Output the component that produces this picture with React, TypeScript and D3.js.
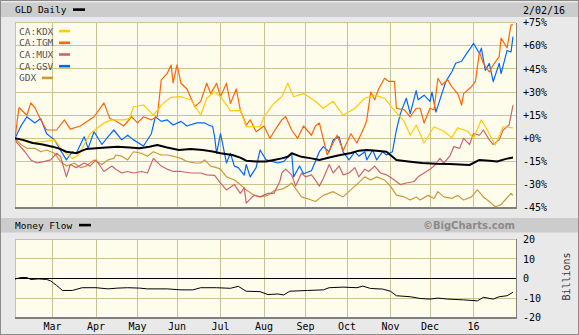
import React from 'react';
import * as d3 from 'd3';

type P = [number, number];

// trading-day index (0 = 2/02/15 ... 252 = 2/02/16), % change
const kdx: P[] = [[0,0],[8,-3],[15,-2],[20,-1],[23,-6],[26,-10],[29,-13],[32,-11],[35,-4],[38,3],[41,6],[45,10],[49,12],[55,12],[58,13],[60,20.5],[65,21.6],[70,15],[75,22.7],[79,26.6],[84,27],[89,25],[94,15],[97,26],[101,30],[104,27],[109,18],[114,18],[117,7.5],[124,7.5],[126,14],[131,22.6],[135,27],[138,35.7],[141,27],[146,29],[152,24],[156,19.5],[161,24],[166,15],[172,19.5],[177,26],[182,28],[187,26],[192,18],[197,10.8],[200,2],[203,8.6],[207,-3],[212,7.5],[217,4.6],[221,0.3],[224,6.8],[229,4.6],[232,0],[236,12],[239,5.4],[243,-4.3],[247,7.5],[252,6.8]];
const tgm: P[] = [[0,0],[2,20],[6,15],[8,23],[10,20],[13,12],[16,5.4],[21,5.4],[25,12],[28,6],[33,8],[40,14],[45,23],[48,12.8],[50,12],[55,8],[59,14],[62,10],[65,14],[69,12],[72,14],[74,37.9],[77,42],[79,47.6],[80,36],[82,47.6],[84,35.7],[87,32],[91,20.5],[94,24],[97,35.7],[99,29],[102,35.7],[104,27],[107,35.7],[109,22.6],[112,32],[114,18.4],[117,8.6],[119,12],[122,4.3],[126,8],[129,0],[131,4.3],[135,12],[137,14],[140,5.4],[143,0],[146,8],[150,2],[152,8],[154,10],[158,-10.8],[160,-5.4],[163,2],[166,-8],[170,3],[173,-3],[177,8],[178,12],[180,30],[182,25],[184,32],[187,39],[189,37],[192,37],[193,19.5],[197,18.4],[200,14],[203,19.5],[205,19.5],[207,10],[210,19.5],[212,18.4],[214,39],[216,34.6],[219,38],[221,33.5],[224,29],[226,21.6],[227,29],[231,33.5],[233,37],[235,56],[237,48.6],[240,43],[242,47.6],[245,53],[246,65],[249,58.6],[251,73.6],[252,73.6]];
const mux: P[] = [[0,0],[1,-3],[5,-8.7],[8,-14],[11,-16],[15,-15],[18,-14],[21,-9.7],[23,-11.6],[26,-25],[28,-17],[31,-19],[35,-16],[38,-18],[41,-14],[45,-21.5],[49,-18],[51,-20],[54,-22.5],[57,-21.5],[60,-22.5],[64,-21.5],[67,-22.5],[70,-13],[74,-18],[77,-20],[80,-21.5],[84,-21.5],[89,-22.5],[94,-22.5],[97,-23.7],[101,-24],[104,-29],[107,-33.5],[111,-30],[114,-35.7],[116,-32],[117,-42],[121,-36.8],[124,-38],[128,-35.7],[131,-35.7],[134,-28],[135,-22.5],[137,-20],[140,-23.7],[142,-31],[145,-22.5],[147,-25],[150,-23.7],[152,-27],[154,-31],[156,-26],[159,-17],[161,-22.5],[164,-18],[166,-23.7],[169,-22.5],[172,-19],[174,-25],[177,-20],[179,-21.5],[182,-18],[185,-22.5],[188,-23.7],[192,-27],[195,-30],[198,-29],[202,-28],[204,-25],[207,-22.5],[210,-20],[212,-18],[215,-13],[217,-16],[220,-11.6],[222,-5.4],[225,-6.5],[227,0],[230,-4],[232,3],[235,2],[237,5.4],[240,-1],[242,-4],[245,-1],[247,5.4],[250,8.6],[252,21.6]];
const gsv: P[] = [[0,0],[3,8],[5,12],[6,14],[10,10],[13,12.8],[16,3],[20,-1],[23,-7.6],[26,-14],[29,-8.7],[31,-9.7],[35,1],[37,-6.5],[40,4.3],[44,-4],[47,1],[50,5.4],[54,-1],[57,2],[60,-1],[65,-5],[69,3],[71,14],[74,11],[77,12],[80,8.6],[84,11],[87,8],[92,10],[96,10],[99,8],[100,8],[101,1],[102,-9.7],[104,3],[107,-16],[109,-9.7],[111,-18],[113,-19],[116,-23.8],[117,-17],[119,-25],[122,-19],[124,-7.6],[127,-13.8],[130,-15],[133,-16],[136,-15],[140,-9.7],[141,-25],[144,-18],[146,-23],[150,-21],[152,-15],[154,-8.7],[156,-5.4],[159,-8.7],[161,-1],[164,1],[166,-8.7],[169,-14],[172,-8.7],[174,-11.6],[177,-8.7],[178,-14],[181,-7.6],[183,-14],[186,-8.7],[188,-10.8],[191,-8.7],[193,5.4],[195,16],[198,26],[200,16],[203,31],[204,25],[207,28],[210,24],[211,30],[213,17],[216,29],[218,36.8],[221,43],[223,48.7],[226,50],[228,54],[231,59.5],[232,61.7],[235,55],[236,58.5],[238,44],[240,48.6],[242,36.8],[245,48.6],[246,42],[249,57],[251,56],[252,66]];
const gdx: P[] = [[0,0],[3,-4],[6,-6.5],[10,-6.5],[13,-8.7],[16,-7.6],[20,-9.7],[23,-15],[26,-18],[30,-16],[33,-19],[36,-18],[40,-14],[44,-17],[47,-14],[50,-13],[51,-10.8],[54,-11.6],[57,-14],[60,-8.7],[64,-9.7],[67,-11.6],[70,-8.7],[74,-10.8],[77,-10.8],[80,-11.6],[84,-13],[87,-15],[91,-16],[94,-16],[96,-14],[99,-18],[102,-19],[104,-20],[107,-25],[111,-27],[114,-30],[117,-33.5],[121,-37],[124,-38],[128,-37],[131,-34],[135,-33],[138,-31],[140,-29],[145,-38],[150,-40],[152,-41],[156,-37],[161,-34.6],[166,-38],[172,-31],[177,-25],[180,-27],[183,-25],[187,-27],[190,-31],[193,-36.8],[197,-38],[200,-40],[203,-38],[205,-40],[209,-37],[212,-39],[214,-34.6],[217,-38],[221,-39],[224,-37],[227,-40],[231,-38],[234,-33.5],[237,-38],[241,-42],[243,-44.4],[246,-43],[248,-40],[251,-35.7],[252,-37]];
const gld: P[] = [[0,0],[4,-1],[9,-3],[14,-4],[19,-5.4],[22,-6.5],[26,-8.7],[31,-9.7],[34,-8],[36,-7],[41,-6.5],[46,-6],[52,-5.4],[58,-6],[63,-6.5],[68,-5.5],[72,-4.3],[77,-6],[83,-7.6],[89,-7],[95,-7.6],[100,-8.5],[104,-9.7],[110,-10.8],[114,-12.5],[117,-14.5],[122,-15],[127,-15],[131,-14],[135,-13],[138,-12],[140,-9.7],[145,-12],[150,-13],[154,-14],[159,-12.5],[164,-11],[170,-9.5],[174,-8],[178,-7.6],[183,-8],[188,-8.7],[193,-14],[199,-15],[206,-16],[213,-16.5],[220,-16.7],[225,-17],[230,-17.3],[235,-14],[240,-14.5],[244,-15],[248,-13.5],[252,-12.4]];
// money flow, billions
const moneyFlow: P[] = [[0,-0.3],[3,0.5],[6,0.5],[8,-0.5],[12,-0.2],[16,-0.5],[18,-1.2],[21,-3.5],[24,-6.1],[29,-6.1],[34,-4.7],[41,-4.7],[47,-5.3],[52,-4.9],[57,-4.7],[63,-4.9],[67,-5.3],[77,-5.3],[84,-5.8],[90,-5.8],[94,-4.7],[102,-4.7],[109,-5],[113,-4],[117,-6.5],[124,-6.7],[128,-8.2],[133,-7.9],[136,-8.4],[139,-6.5],[148,-6.1],[156,-5.8],[159,-4.7],[166,-4.4],[173,-4.7],[176,-3.9],[180,-5.1],[186,-5.4],[190,-6.5],[193,-8.8],[200,-9.3],[205,-10.2],[210,-10.5],[214,-10],[219,-10.5],[227,-10.9],[234,-11.4],[237,-9.6],[242,-10.5],[245,-9.3],[249,-8.8],[252,-7]];

const monthLabels = ['Mar','Apr','May','Jun','Jul','Aug','Sep','Oct','Nov','Dec','16'];
const monthDays = [19,41,62,82,104,126,147,168,190,210,232];
const pctTicks = [75,60,45,30,15,0,-15,-30,-45];
const mfTicks = [20,10,0,-10,-20];

const seriesNames = ['CA:KDX','CA:TGM','CA:MUX','CA:GSV','GDX'];
const seriesColors = ['#ffcc00','#ff6600','#cc6666','#0066ff','#cc9933'];
const seriesData = [kdx, tgm, mux, gsv, gdx];

const MONO = "'DejaVu Sans Mono', 'Liberation Mono', monospace";

export default function App() {
  const W = 579, H = 335;
  const L = 15, R = 516;
  const T1 = 22.7, B1 = 207.7;
  const T2 = 239.3, B2 = 317.7;
  const x = d3.scaleLinear().domain([0, 252]).range([L, 513]);
  const y = d3.scaleLinear().domain([-45, 75]).range([B1, T1]);
  const ym = d3.scaleLinear().domain([-20, 20]).range([B2, T2]);
  const line = d3.line<P>().x(d => x(d[0])).y(d => y(d[1]));
  const mline = d3.line<P>().x(d => x(d[0])).y(d => ym(d[1]));
  const grid = '#c8c68e';
  const order = [4, 2, 3, 1, 0];

  return (
    <svg width={W} height={H} style={{ position: 'fixed', left: 0, top: 0, display: 'block' }}
      xmlns="http://www.w3.org/2000/svg">
      <defs>
        <pattern id="dots" width="2" height="2" patternUnits="userSpaceOnUse">
          <rect width="2" height="2" fill="#ffffd2" />
          <rect width="1" height="1" fill="#fffff2" />
          <rect x="1" y="1" width="1" height="1" fill="#fffff2" />
        </pattern>
        <clipPath id="c1"><rect x={L} y={T1} width={R - L} height={B1 - T1} /></clipPath>
        <clipPath id="c2"><rect x={L} y={T2} width={R - L} height={B2 - T2} /></clipPath>
      </defs>
      <rect x={0} y={0} width={W} height={H} fill="#e9e9e9" />
      <rect x={0.5} y={0.5} width={W - 1} height={H - 1} fill="none" stroke="#8c8c8c" />
      {/* headers */}
      <rect x={1} y={2.5} width={W - 2} height={14.5} fill="#cccccc" />
      <rect x={1} y={218} width={W - 2} height={14.5} fill="#cccccc" />
      <text x={15} y={13.3} fontFamily={MONO} fontSize={9.5} fill="#000">GLD Daily</text>
      <rect x={73} y={8.3} width={12} height={2.6} fill="#000" />
      <text x={523} y={13.5} fontFamily={MONO} fontSize={10} fill="#000">2/02/16</text>
      <text x={15} y={228.8} fontFamily={MONO} fontSize={9.5} fill="#000">Money Flow</text>
      <rect x={79} y={223.8} width={12} height={2.6} fill="#000" />
      <text x={515} y={229} textAnchor="end" fontFamily="'DejaVu Sans', Verdana, sans-serif"
        fontWeight="bold" fontSize={10} fill="#8a8a8a">©BigCharts.com</text>

      {/* main panel */}
      <rect x={L} y={T1} width={R - L} height={B1 - T1} fill="url(#dots)" />
      <g stroke={grid} strokeWidth={1} shapeRendering="crispEdges">
        {pctTicks.map(t => <line key={t} x1={L} x2={R} y1={y(t)} y2={y(t)} />)}
        {monthDays.map(d => <line key={d} x1={x(d)} x2={x(d)} y1={T1} y2={B1} />)}
        <line x1={L} x2={L} y1={T1} y2={B1} />
      </g>
      <g fontFamily={MONO} fontSize={9.5} fill="#555">
        {seriesNames.map((n, i) => (
          <g key={n}>
            <text x={19} y={34.5 + i * 11.7}>{n}</text>
            <rect x={19 + (n.length + 1) * 5.72} y={29.8 + i * 11.7} width={11} height={2.6} fill={seriesColors[i]} />
          </g>
        ))}
      </g>
      <g clipPath="url(#c1)" fill="none" strokeLinejoin="round">
        {order.map(i => (
          <path key={i} d={line(seriesData[i]) || ''} stroke={seriesColors[i]} strokeWidth={1.2} />
        ))}
        <path d={line(gld) || ''} stroke="#000" strokeWidth={2} />
      </g>
      <g stroke="#808080" strokeWidth={1.5} shapeRendering="crispEdges">
        <line x1={L} x2={R + 1} y1={B1 + 0.5} y2={B1 + 0.5} />
        <line x1={R + 0.5} x2={R + 0.5} y1={T1} y2={B1 + 1} />
      </g>
      <g fontFamily={MONO} fontSize={10} fill="#000">
        {pctTicks.map(t => (
          <text key={t} x={523} y={y(t) + 3.6}>{(t >= 0 ? '+' : '') + t + '%'}</text>
        ))}
      </g>

      {/* money flow panel */}
      <rect x={L} y={T2} width={R - L} height={B2 - T2} fill="url(#dots)" />
      <g stroke={grid} strokeWidth={1} shapeRendering="crispEdges">
        {[10, -10].map(t => <line key={t} x1={L} x2={R} y1={ym(t)} y2={ym(t)} />)}
        {monthDays.map(d => <line key={d} x1={x(d)} x2={x(d)} y1={T2} y2={B2} />)}
        <line x1={L} x2={R} y1={T2} y2={T2} />
        <line x1={L} x2={L} y1={T2} y2={B2} />
      </g>
      <line x1={L} x2={R} y1={ym(0)} y2={ym(0)} stroke="#000" strokeWidth={1} shapeRendering="crispEdges" />
      <g clipPath="url(#c2)">
        <path d={mline(moneyFlow) || ''} fill="none" stroke="#000" strokeWidth={1} />
      </g>
      <g stroke="#808080" strokeWidth={1.5} shapeRendering="crispEdges">
        <line x1={L} x2={R + 1} y1={B2 + 0.5} y2={B2 + 0.5} />
        <line x1={R + 0.5} x2={R + 0.5} y1={T2} y2={B2 + 1} />
      </g>
      <g fontFamily={MONO} fontSize={10} fill="#000">
        {mfTicks.map(t => (
          <text key={t} x={523} y={ym(t) + 3.6}>{String(t)}</text>
        ))}
        {monthLabels.map((m, i) => (
          <text key={m} x={x(monthDays[i])} y={329.5} textAnchor="middle">{m}</text>
        ))}
      </g>
      <text transform="translate(569.5,276.5) rotate(-90)" textAnchor="middle" fontFamily={MONO}
        fontSize={10} fill="#333">Billions</text>
    </svg>
  );
}
